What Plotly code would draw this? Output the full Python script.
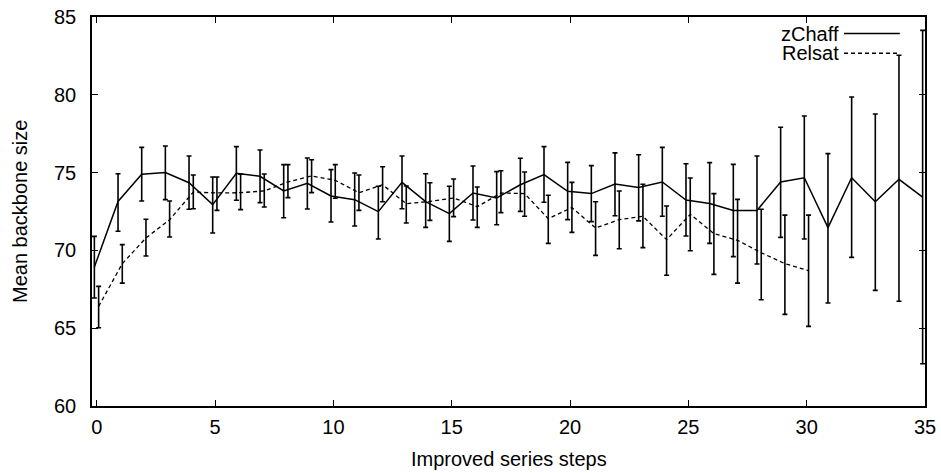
import plotly.graph_objects as go

# ---- data ----
steps_zchaff = list(range(0, 36))
zchaff_mean = [68.93, 73.15, 74.89, 75.00, 74.35, 72.94, 74.95, 74.76, 73.82, 74.31,
               73.50, 73.26, 72.49, 74.37, 73.13, 72.36, 73.69, 73.37, 74.22, 74.87,
               73.80, 73.65, 74.27, 74.05, 74.40, 73.24, 73.02, 72.57, 72.57, 74.40,
               74.67, 71.46, 74.67, 73.13, 74.57, 73.43]
zchaff_upper = [70.90, 74.93, 76.62, 76.71, 76.07, 74.72, 76.67, 76.45, 75.51, 75.94,
                75.19, 74.97, 74.12, 76.07, 74.93, 74.12, 75.42, 75.06, 75.92, 76.67,
                75.66, 75.45, 76.27, 76.15, 76.62, 75.57, 75.64, 75.53, 76.07, 77.91,
                78.64, 76.22, 79.86, 78.77, 82.54, 84.14]
zchaff_lower = [66.94, 71.23, 73.17, 73.26, 72.64, 71.12, 73.22, 73.07, 72.10, 72.66,
                71.83, 71.57, 70.73, 72.68, 71.48, 70.58, 71.95, 71.65, 72.51, 73.09,
                71.98, 71.85, 72.23, 71.90, 72.19, 70.93, 70.45, 69.60, 69.13, 70.84,
                70.73, 66.62, 69.55, 67.43, 66.73, 62.72]

steps_relsat = list(range(0, 31))
relsat_mean = [66.40, 69.15, 70.80, 71.97, 73.75, 73.69, 73.71, 73.82, 74.40, 74.78,
               74.50, 73.71, 74.22, 73.00, 73.15, 73.37, 72.81, 73.69, 73.65, 72.04,
               72.75, 71.44, 71.98, 72.19, 70.69, 72.32, 71.08, 70.65, 69.85, 69.15,
               68.70]
relsat_upper = [67.69, 70.37, 72.00, 73.17, 74.85, 74.72, 74.89, 74.91, 75.51, 75.83,
                75.51, 74.85, 75.38, 74.14, 74.35, 74.59, 74.07, 75.12, 75.04, 73.54,
                74.37, 73.13, 73.82, 74.25, 72.85, 74.65, 73.65, 73.28, 72.64, 72.27,
                72.27]
relsat_lower = [65.03, 67.90, 69.64, 70.86, 72.68, 72.57, 72.62, 72.79, 73.39, 73.71,
                73.35, 72.57, 73.13, 71.76, 71.93, 72.17, 71.48, 72.43, 72.19, 70.45,
                71.16, 69.68, 70.11, 70.18, 68.40, 69.98, 68.46, 67.90, 66.83, 65.89,
                65.12]

x_ticks = [0, 5, 10, 15, 20, 25, 30, 35]
y_ticks = [60, 65, 70, 75, 80, 85]
series_names = ["zChaff", "Relsat"]

# ---- styling ----
FONT = "Liberation Sans, Arial, Helvetica, sans-serif"
INK = "#000000"
ZCHAFF_SHIFT = -0.1
RELSAT_SHIFT = 0.08

fig = go.Figure()

fig.add_trace(go.Scatter(
    x=[s + ZCHAFF_SHIFT for s in steps_zchaff], y=zchaff_mean,
    mode="lines", name=series_names[0],
    line=dict(color=INK, width=1.5),
    error_y=dict(type="data", symmetric=False,
                 array=[u - m for u, m in zip(zchaff_upper, zchaff_mean)],
                 arrayminus=[m - l for m, l in zip(zchaff_mean, zchaff_lower)],
                 color=INK, thickness=1.6, width=2.5),
    showlegend=False, cliponaxis=False,
))

fig.add_trace(go.Scatter(
    x=[s + RELSAT_SHIFT for s in steps_relsat], y=relsat_mean,
    mode="lines", name=series_names[1],
    line=dict(color=INK, width=1.3, dash="4px,3px"),
    error_y=dict(type="data", symmetric=False,
                 array=[u - m for u, m in zip(relsat_upper, relsat_mean)],
                 arrayminus=[m - l for m, l in zip(relsat_mean, relsat_lower)],
                 color=INK, thickness=1.6, width=2.5),
    showlegend=False, cliponaxis=False,
))

axis_common = dict(
    showline=True, linecolor=INK, linewidth=1.5, mirror="ticks",
    ticks="inside", ticklen=6, tickwidth=1.2, tickcolor=INK,
    showgrid=False, zeroline=False, automargin=False,
    tickfont=dict(family=FONT, size=20, color=INK),
)

fig.update_xaxes(range=[-0.2, 35], tickvals=x_ticks, ticktext=[str(v) for v in x_ticks],
                 ticklabelstandoff=2, **axis_common)
fig.update_yaxes(range=[60, 85], tickvals=y_ticks, ticktext=[str(v) for v in y_ticks],
                 ticklabelstandoff=10, **axis_common)

annotations = [
    dict(text="Improved series steps", xref="paper", yref="paper", x=0.5, y=-0.135,
         xanchor="center", yanchor="middle", showarrow=False,
         font=dict(family=FONT, size=20, color=INK)),
    dict(text="Mean backbone size", xref="paper", yref="paper", x=-0.087, y=0.5,
         xanchor="center", yanchor="middle", showarrow=False, textangle=-90,
         font=dict(family=FONT, size=20, color=INK)),
]
shapes = []
legend_rows = [(series_names[0], 0.9575, "solid"), (series_names[1], 0.9067, "4px,3px")]
for name, yy, dash in legend_rows:
    annotations.append(dict(text=name, xref="paper", yref="paper", x=0.899, y=yy,
                            xanchor="right", yanchor="middle", showarrow=False,
                            height=18, valign="middle",
                            font=dict(family=FONT, size=20, color=INK)))
    shapes.append(dict(type="line", xref="paper", yref="paper", x0=0.9028, x1=0.9698,
                       y0=yy, y1=yy, line=dict(color=INK, width=1.5, dash=dash)))

fig.update_layout(
    width=941, height=473,
    margin=dict(l=92, r=16, t=17, b=67),
    paper_bgcolor="white", plot_bgcolor="white",
    annotations=annotations, shapes=shapes,
    showlegend=False,
)

fig.write_html(
    "out.html",
    config={"displayModeBar": False},
    post_script="document.body.style.margin='0px';document.body.style.overflow='hidden';",
)
